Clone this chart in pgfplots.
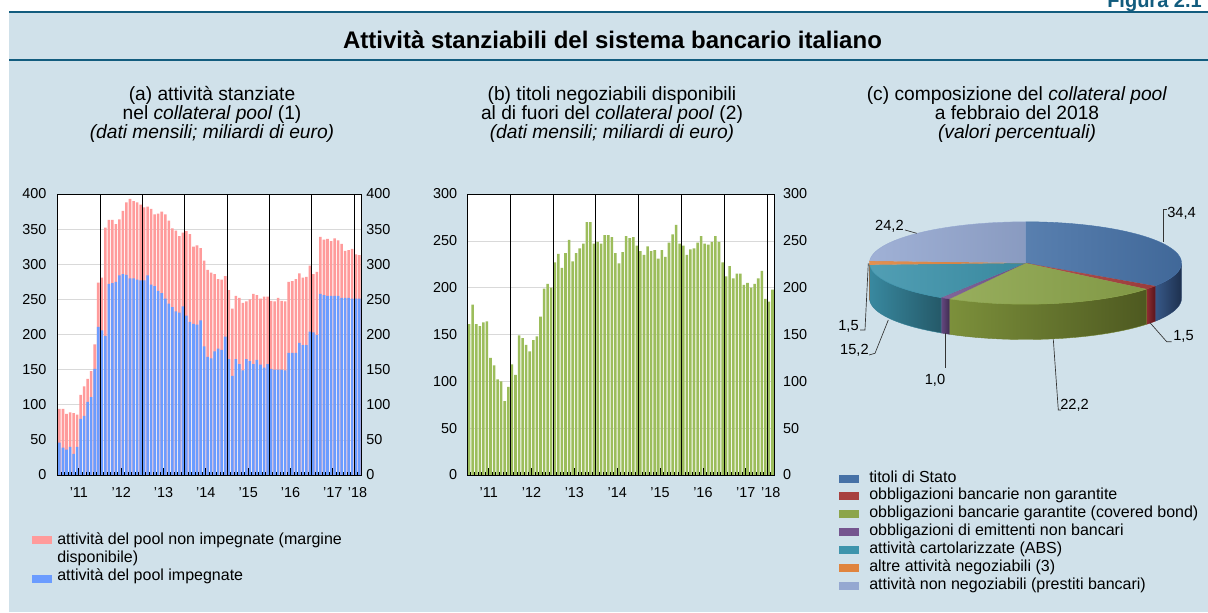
\documentclass[border=0pt]{standalone}
\usepackage{pgfplots}
\pgfplotsset{compat=1.18}
\usepackage{pgfplotstable}
\usepackage{fontspec}
\setmainfont{Liberation Sans}

\definecolor{bg}{HTML}{D0E1EA}
\definecolor{rulec}{HTML}{125C7E}
\definecolor{redbar}{HTML}{FF9B9B}
\definecolor{bluebar}{HTML}{6B9CFF}
\definecolor{greenbar}{HTML}{9CBD5B}
\definecolor{gridc}{HTML}{D9D9D9}
\definecolor{top0}{HTML}{4671A6}
\definecolor{top1}{HTML}{A8403F}
\definecolor{top2}{HTML}{8CA54B}
\definecolor{top3}{HTML}{75558F}
\definecolor{top4}{HTML}{3E94AC}
\definecolor{top5}{HTML}{E0843E}
\definecolor{top6}{HTML}{95A8D1}
\definecolor{side0}{HTML}{2B4570}
\definecolor{side1}{HTML}{7E1F28}
\definecolor{side2}{HTML}{6F7F2E}
\definecolor{side3}{HTML}{5A3F75}
\definecolor{side4}{HTML}{347F95}
\definecolor{side5}{HTML}{B5652C}
\definecolor{side6}{HTML}{7586B0}

\newcommand\fTitle{\fontsize{18}{21}\selectfont\bfseries}
\newcommand\fSub{\fontsize{14.4}{14.25}\selectfont}
\newcommand\fTick{\fontsize{10.8}{13}\selectfont}
\newcommand\fLeg{\fontsize{12}{14}\selectfont}
\newcommand\fPie{\fontsize{11}{13}\selectfont}

% (a) attivita' stanziate: impegnate (blue) e totale pool (blue + red)
\pgfplotstableread{
x blue total
0 46 94
1 39 94
2 36 87
3 40 89
4 30 88
5 40 86
6 80 114
7 84 126
8 104 137
9 111 148
10 151 186
11 211 274
12 206 281
13 198 352
14 272 363
15 273 363
16 275 357
17 284 364
18 286 376
19 285 388
20 280 393
21 280 390
22 278 388
23 277 385
24 277 381
25 284 382
26 271 379
27 269 371
28 262 372
29 259 375
30 251 371
31 244 362
32 239 351
33 233 348
34 231 340
35 240 345
36 227 347
37 218 343
38 215 325
39 214 327
40 220 323
41 183 305
42 168 292
43 166 288
44 176 286
45 180 279
46 178 278
47 197 283
48 165 263
49 141 237
50 165 255
51 158 252
52 149 245
53 165 247
54 162 250
55 158 258
56 164 256
57 157 251
58 153 254
59 158 254
60 151 248
61 150 247
62 150 252
63 150 248
64 149 247
65 174 275
66 174 276
67 174 279
68 188 287
69 185 281
70 185 282
71 204 298
72 203 286
73 199 289
74 258 339
75 256 335
76 255 336
77 255 333
78 255 337
79 255 334
80 252 329
81 252 319
82 252 320
83 251 322
84 251 314
85 251 313
}\dataA

% (b) titoli negoziabili disponibili fuori dal pool
\pgfplotstableread{
x val
0 161
1 182
2 161
3 159
4 163
5 164
6 125
7 117
8 102
9 100
10 79
11 94
12 118
13 107
14 149
15 146
16 139
17 132
18 144
19 148
20 169
21 199
22 204
23 200
24 227
25 236
26 221
27 237
28 251
29 228
30 237
31 242
32 247
33 270
34 270
35 247
36 249
37 247
38 256
39 256
40 254
41 237
42 226
43 238
44 255
45 253
46 254
47 245
48 239
49 235
50 244
51 239
52 240
53 231
54 240
55 233
56 248
57 257
58 267
59 247
60 245
61 235
62 241
63 242
64 248
65 255
66 247
67 246
68 249
69 255
70 249
71 227
72 212
73 223
74 210
75 215
76 215
77 203
78 205
79 200
80 204
81 210
82 218
83 188
84 185
85 198
}\dataB

% (c) composizione del collateral pool (percentuali)
\pgfplotstableread{
share
34.4
1.5
22.2
1.0
15.2
1.5
24.2
}\dataC

\gdef\cumang{90}
\pgfplotsforeachungrouped \k in {0,...,6}{%
  \pgfplotstablegetelem{\k}{share}\of\dataC
  \pgfmathsetmacro\tmpS{\cumang}%
  \pgfmathsetmacro\tmpE{\cumang-3.6*\pgfplotsretval}%
  \expandafter\xdef\csname angS\k\endcsname{\tmpS}%
  \expandafter\xdef\csname angE\k\endcsname{\tmpE}%
  \xdef\cumang{\tmpE}%
}

\pgfplotsset{
  base/.style={
    scale only axis, anchor=south west,
    xmin=-0.5, xmax=85.5, ymin=0,
    every tick label/.append style={font=\fTick},
    /pgf/number format/assume math mode=true,
    axis line style={black, line width=0.6pt},
  },
  barsaxis/.style={base,
    axis background/.style={fill=white},
    ymajorgrids, grid style={gridc, line width=0.5pt},
    xtick=\empty, ytick style={draw=none}, yticklabel pos=left,
  },
  overaxis/.style={base,
    ytick style={draw=none}, yticklabel pos=right,
    xtick pos=left, tick align=inside,
    xtick={5.5,17.5,29.5,41.5,53.5,65.5,77.5},
    xticklabels={’11,’12,’13,’14,’15,’16,’17},
    extra x ticks={84.5}, extra x tick labels={’18},
    extra x tick style={major tick length=0pt, tick style={draw=none}},
    minor xtick={-0.5,0.5,...,85.5},
    major tick length=5.5pt, minor tick length=2.5pt,
    tick style={black, line width=0.6pt},
    xticklabel style={yshift=-6pt},
  },
}

\begin{document}
\begin{tikzpicture}[x=0.75pt,y=0.75pt]
\clip (0,0) rectangle (1208,612);
\fill[white] (0,0) rectangle (1208,612);
\fill[bg] (9,0) rectangle (1208,599.5);
\fill[rulec] (9,598.7) rectangle (1208,601);
\fill[rulec] (9,551.3) rectangle (1208,553);
\node[anchor=base west, text=rulec, font=\fontsize{15}{17}\selectfont\bfseries, inner sep=0pt] at (1107,604) {Figura 2.1};
\node[font=\fTitle] at (612.5,571.7) {Attività stanziabili del sistema bancario italiano};

\node[align=center, font=\fSub] at (212,497.5) {(a) attività stanziate\\nel \textit{collateral pool} (1)\\\textit{(dati mensili; miliardi di euro)}};
\node[align=center, font=\fSub] at (612,497.5) {(b) titoli negoziabili disponibili\\al di fuori del \textit{collateral pool} (2)\\\textit{(dati mensili; miliardi di euro)}};
\node[align=center, font=\fSub] at (1017,497.5) {(c) composizione del \textit{collateral pool}\\a febbraio del 2018\\\textit{(valori percentuali)}};

% ---------- panel (a)
\begin{axis}[barsaxis, at={(43.275pt,102.75pt)}, width=227.5pt, height=210.75pt,
  ymax=400, ytick={0,50,...,400}, yticklabel style={xshift=-5pt}]
\addplot[ybar, bar width=0.72, bar shift=0pt, fill=redbar, draw=none] table[x=x,y=total]{\dataA};
\addplot[ybar, bar width=0.72, bar shift=0pt, fill=bluebar, draw=none] table[x=x,y=blue]{\dataA};
\end{axis}
\begin{axis}[overaxis, at={(43.275pt,102.75pt)}, width=227.5pt, height=210.75pt,
  ymax=400, ytick={0,50,...,400}, yticklabel style={xshift=0.5pt}]
\pgfplotsinvokeforeach{11.5,23.5,35.5,47.5,59.5,71.5,83.5}{\draw[black, line width=0.7pt] (axis cs:#1,0) -- (axis cs:#1,400);}
\end{axis}

% ---------- panel (b)
\begin{axis}[barsaxis, at={(350.475pt,102.75pt)}, width=230.25pt, height=210.75pt,
  ymax=300, ytick={0,50,...,300}, yticklabel style={xshift=-4pt}]
\addplot[ybar, bar width=0.72, bar shift=0pt, fill=greenbar, draw=none] table[x=x,y=val]{\dataB};
\end{axis}
\begin{axis}[overaxis, at={(350.475pt,102.75pt)}, width=230.25pt, height=210.75pt,
  ymax=300, ytick={0,50,...,300}, yticklabel style={xshift=3pt}]
\pgfplotsinvokeforeach{11.5,23.5,35.5,47.5,59.5,71.5,83.5}{\draw[black, line width=0.7pt] (axis cs:#1,0) -- (axis cs:#1,300);}
\end{axis}

% legend (a)
\fill[redbar] (32,68) rectangle (52,76);
\node[anchor=mid west, font=\fLeg, inner sep=0pt] at (57,71.3) {attività del pool non impegnate (margine};
\node[anchor=mid west, font=\fLeg, inner sep=0pt] at (57,53) {disponibile)};
\fill[bluebar] (32,29) rectangle (52,37);
\node[anchor=mid west, font=\fLeg, inner sep=0pt] at (57,35) {attività del pool impegnate};

% ---------- panel (c) pie
\begin{axis}[at={(769.125pt,261.75pt)}, anchor=center, x=0.75pt, y=0.75pt,
  xmin=-200, xmax=200, ymin=-100, ymax=100, hide axis, clip=false]
\pgfplotsinvokeforeach{0,...,6}{%
  \edef\pieS{\csname angS#1\endcsname}%
  \edef\pieE{\csname angE#1\endcsname}%
  \pgfmathsetmacro\sideS{min(\pieS,0)}%
  \pgfmathsetmacro\sideE{max(\pieE,-180)}%
  \pgfmathtruncatemacro\hasside{\sideS>\sideE ? 1 : 0}%
  \ifnum\hasside=1
    \edef\tmp{\noexpand\addplot[draw=side#1, line width=0.3pt, left color=side#1!55!top#1, right color=side#1!70!black, domain=0:2.2, samples=111, forget plot]
      ({156*cos(\sideE+(\sideS-\sideE)*min(x,1,2.2-x))},
       {41.2*sin(\sideE+(\sideS-\sideE)*min(x,1,2.2-x))-35.3*min(1,max(0,(x-1)/0.2))});}%
    \tmp
  \fi
}
\pgfplotsinvokeforeach{0,...,6}{%
  \edef\pieS{\csname angS#1\endcsname}%
  \edef\pieE{\csname angE#1\endcsname}%
  \edef\tmp{\noexpand\addplot[draw=top#1, line width=0.3pt, left color=top#1!90!white, right color=top#1!92!black, domain=0:1.02, samples=52, forget plot]
     ({(x<=1.001)*156*cos(\pieS+(\pieE-\pieS)*min(x,1))},
      {(x<=1.001)*41.2*sin(\pieS+(\pieE-\pieS)*min(x,1))});}%
  \tmp
}
\end{axis}

% pie labels
\begin{scope}[line width=0.5pt, black!80]
\draw (1163.3,370.3) -- (1163.3,402.7) -- (1167,402.7);
\node[anchor=west, font=\fPie, inner sep=0pt, text=black] at (1167,398.7) {34,4};
\draw (905,382) -- (916.7,378.7);
\node[anchor=east, font=\fPie, inner sep=0pt, text=black] at (904,385.3) {24,2};
\draw (1150,289.3) -- (1166.7,270.3) -- (1171.7,270.3);
\node[anchor=west, font=\fPie, inner sep=0pt, text=black] at (1173,275.3) {1,5};
\draw (1053.3,272.7) -- (1058.3,202) -- (1061,202);
\node[anchor=west, font=\fPie, inner sep=0pt, text=black] at (1060,206.7) {22,2};
\draw (945,278.7) -- (945,243.7);
\node[font=\fPie, inner sep=0pt, text=black] at (935,232) {1,0};
\draw (888.3,292) -- (875,258.7) -- (869,257);
\node[anchor=east, font=\fPie, inner sep=0pt, text=black] at (869,262) {15,2};
\draw (868.3,348.7) -- (865,282) -- (860,282);
\node[anchor=east, font=\fPie, inner sep=0pt, text=black] at (859,285.3) {1,5};
\end{scope}

% legend (c)
\foreach \c/\t [count=\i from 0] in {top0/titoli di Stato, top1/obbligazioni bancarie non garantite, top2/obbligazioni bancarie garantite (covered bond), top3/obbligazioni di emittenti non bancari, top4/attività cartolarizzate (ABS), top5/altre attività negoziabili (3), top6/attività non negoziabili (prestiti bancari)}{
  \pgfmathsetmacro\yy{612-478.5-17.85*\i}
  \fill[\c] (839,\yy-4) rectangle (859,\yy+4);
  \node[anchor=mid west, font=\fLeg, inner sep=0pt] at (869,\yy) {\t};
}
\end{tikzpicture}
\end{document}
